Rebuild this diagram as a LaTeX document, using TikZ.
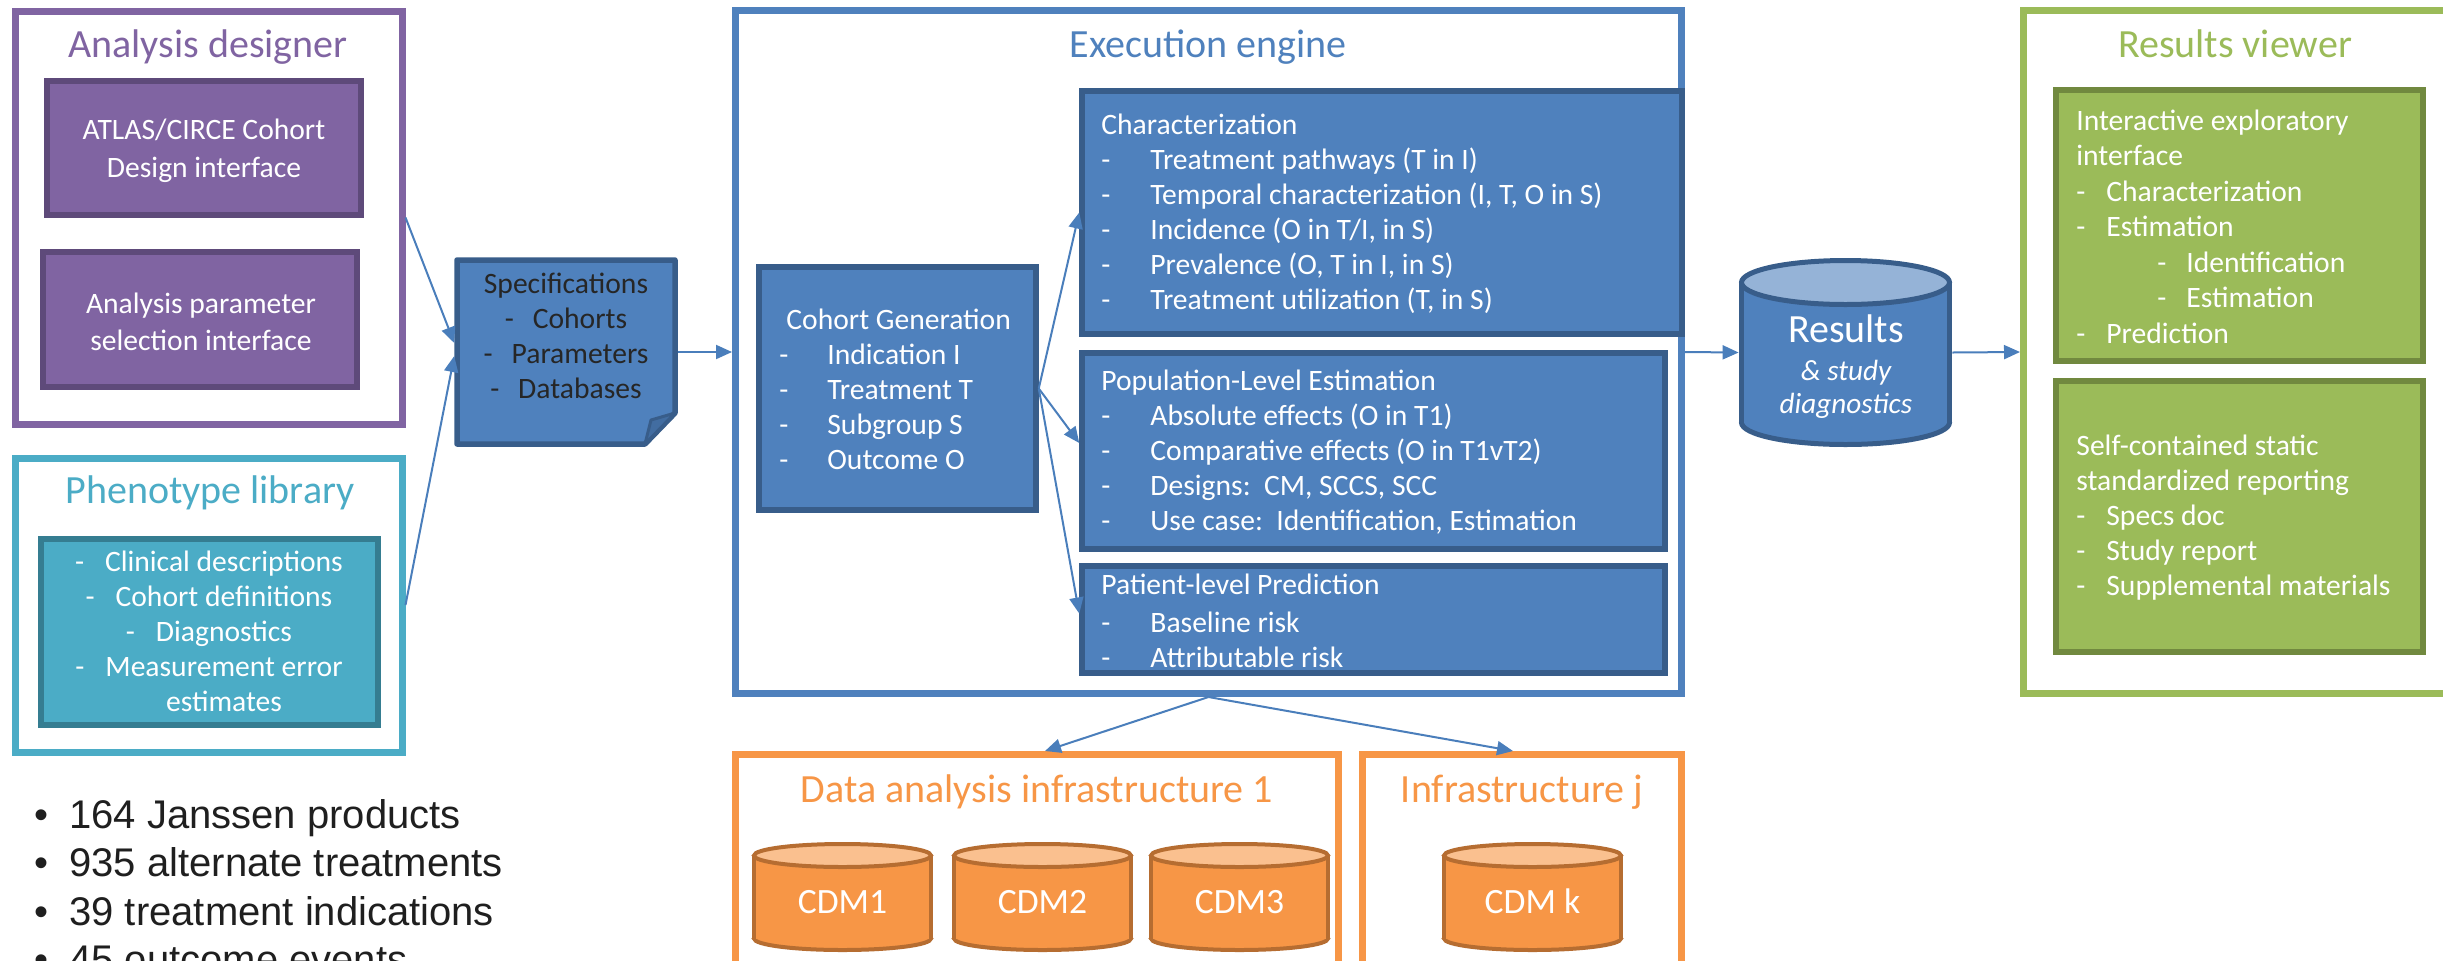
\documentclass[tikz,border=0pt]{standalone}
\usepackage{fontspec}
\setmainfont{Carlito}
\newfontfamily\arialfont{Liberation Sans}
\usetikzlibrary{fit,arrows.meta}

\definecolor{purp}{HTML}{8064A2}
\definecolor{purpd}{HTML}{5E4A7A}
\definecolor{aqua}{HTML}{4BACC6}
\definecolor{aquad}{HTML}{357D91}
\definecolor{blu}{HTML}{4F81BD}
\definecolor{blud}{HTML}{385D8A}
\definecolor{blul}{HTML}{95B3D7}
\definecolor{grn}{HTML}{9BBB59}
\definecolor{grnd}{HTML}{71893F}
\definecolor{org}{HTML}{F79646}
\definecolor{orgd}{HTML}{B66D31}
\definecolor{orgl}{HTML}{FAC08F}
\definecolor{arrc}{HTML}{4A7EBB}
\definecolor{dk}{HTML}{262626}
\definecolor{bulc}{HTML}{1F1F1F}

\newcommand\bodyfont{\fontsize{14.8}{17.5}\selectfont}
\newcommand\ttlfont{\fontsize{20}{24}\selectfont}
\newcommand\dsh[1]{\makebox[#1][l]{-}}
\newcommand\drawcyl[8]{%
  \path[fill=#6, draw=#8, line width=2pt] (#1,#3-#5) ellipse [x radius=#4, y radius=#5];
  \fill[#6] (#1-#4,#2+#5) rectangle (#1+#4,#3-#5);
  \draw[#8, line width=2pt] (#1-#4,#2+#5) -- (#1-#4,#3-#5) (#1+#4,#2+#5) -- (#1+#4,#3-#5);
  \path[fill=#7, draw=#8, line width=2pt] (#1,#2+#5) ellipse [x radius=#4, y radius=#5];
}

\begin{document}
\begin{tikzpicture}[x=0.5pt,y=-0.5pt,
  cont/.style={draw, line width=3.5pt, inner sep=0pt, fill=white},
  ibox/.style={draw, line width=2.75pt, inner sep=0pt},
  ttl/.style={inner sep=0pt, anchor=base, font=\ttlfont},
  btxt/.style={inner sep=0pt, anchor=base west, font=\bodyfont, text=white},
  ctxt/.style={inner sep=0pt, anchor=base, font=\bodyfont, text=white},
  cdm/.style={inner sep=0pt, anchor=base, font=\fontsize{17.8}{20}\selectfont, text=white},
  arr/.style={draw=arrc, line width=1pt, -{Triangle[length=8pt,width=7pt]}},
]
\useasboundingbox (0,0) rectangle (2443,960);
\clip (0,0) rectangle (2443,960);

% containers
\node[cont, draw=purp, fit={(15,11) (402,424)}] (ad) {};
\node[cont, draw=aqua, fit={(15,458) (402,752)}] (ph) {};
\node[cont, draw=blu, fit={(735.5,10.5) (1681.5,693.5)}] (exec) {};
\node[cont, draw=grn, fit={(2023.5,10.5) (2470,693.5)}] (view) {};
\node[cont, draw=org, fit={(735.5,754.5) (1338.5,1000)}] (inf1) {};
\node[cont, draw=org, fit={(1362.5,754.5) (1681.5,1000)}] (infj) {};

% inner boxes
\node[ibox, fill=purp, draw=purpd, fit={(47,81) (361,215)}] (atlas) {};
\node[ibox, fill=purp, draw=purpd, fit={(43,252) (357,387)}] (param) {};
\node[ibox, fill=aqua, draw=aquad, fit={(41,539) (378,725)}] (phin) {};
\node[inner sep=0pt, line width=2.75pt, fit={(457,260) (675,444)}] (specs) {};
\draw[fill=blu, draw=blud, line width=2.75pt, line join=round]
  (457,260) -- (675,260) -- (675,413) -- (645,444) -- (457,444) -- cycle;
\draw[fill=blud!55!blu, draw=blud, line width=1.5pt, line join=round]
  (675,413) -- (651,420) -- (645,444) -- cycle;
\node[ibox, fill=blu, draw=blud, fit={(759,267) (1036,510)}] (coh) {};
\node[ibox, fill=blu, draw=blud, fit={(1082,91) (1682,334)}] (char) {};
\node[ibox, fill=blu, draw=blud, fit={(1082,353) (1665,549)}] (pop) {};
\node[ibox, fill=blu, draw=blud, fit={(1082,566) (1665,673)}] (plp) {};
\node[ibox, fill=grn, draw=grnd, fit={(2056,90) (2423,361)}] (inter) {};
\node[ibox, fill=grn, draw=grnd, fit={(2056,381) (2423,652)}] (self) {};

% cylinders
\node[inner sep=0pt, fit={(1739,258) (1952,447)}] (res) {};
\path[fill=blu, draw=blud, line width=2.5pt] (1845.5,444.5-22) ellipse [x radius=104, y radius=22];
\fill[blu] (1845.5-104,260.5+22) rectangle (1845.5+104,444.5-22);
\draw[blud, line width=2.5pt] (1845.5-104,260.5+22) -- (1845.5-104,444.5-22) (1845.5+104,260.5+22) -- (1845.5+104,444.5-22);
\path[fill=blul, draw=blud, line width=2.5pt] (1845.5,260.5+22) ellipse [x radius=104, y radius=22];

\drawcyl{842.5}{844}{950}{88.5}{11.5}{org}{orgl}{orgd}
\drawcyl{1042.5}{844}{950}{88.5}{11.5}{org}{orgl}{orgd}
\drawcyl{1239.5}{844}{950}{88.5}{11.5}{org}{orgl}{orgd}
\drawcyl{1532.5}{844}{950}{88.5}{11.5}{org}{orgl}{orgd}

% connectors
\draw[arr] (ad.east) -- ([yshift=4.5pt]specs.west);
\draw[arr] (ph.east) -- ([yshift=-2pt]specs.west);
\draw[arr] (specs.east) -- (exec.west);
\draw[arr] (exec.east) -- (res.west);
\draw[arr] (res.east) -- (view.west);
\draw[arr] (coh.east) -- (char.west);
\draw[arr] (coh.east) -- ([yshift=4pt]pop.west);
\draw[arr] (coh.east) -- ([yshift=3pt]plp.west);
\draw[arr] (exec.south) -- ([xshift=4pt]inf1.north);
\draw[arr] (exec.south) -- ([xshift=-4.5pt]infj.north);

% titles
\node[ttl, text=purp] (adt) at (208,57) {Analysis designer};
\node[ttl, text=aqua] (pht) at (210,503) {Phenotype library};
\node[ttl, text=blu] (exect) at (1208,57) {Execution engine};
\node[ttl, text=grn] (viewt) at (2235,57) {Results viewer};
\node[ttl, text=org] (inf1t) at (1037,802) {Data analysis infrastructure 1};
\node[ttl, text=org] (infjt) at (1522,802) {Infrastructure j};

% box texts
\node[ctxt, font=\fontsize{14.8}{19}\selectfont] (atlast) at (204,139)
  {\begin{tabular}[t]{@{}c@{}}ATLAS/CIRCE Cohort\\Design interface\end{tabular}};
\node[ctxt, font=\fontsize{14.8}{18.5}\selectfont] (paramt) at (201,313)
  {\begin{tabular}[t]{@{}c@{}}Analysis parameter\\selection interface\end{tabular}};
\node[ctxt, font=\fontsize{14.8}{17.6}\selectfont] (phint) at (209,571)
  {\begin{tabular}[t]{@{}c@{}}\dsh{15pt}Clinical descriptions\\\dsh{15pt}Cohort definitions\\\dsh{15pt}Diagnostics\\\dsh{15pt}Measurement error\\\hspace*{15pt}estimates\end{tabular}};
\node[ctxt, text=dk, font=\fontsize{14.8}{17.6}\selectfont] (specst) at (566,293)
  {\begin{tabular}[t]{@{}c@{}}Specifications\\\dsh{14pt}Cohorts\\\dsh{14pt}Parameters\\\dsh{14pt}Databases\end{tabular}};
\node[btxt] (coht) at (779,329)
  {\begin{tabular}[t]{@{}l@{}}\hspace*{3.5pt}Cohort Generation\\\dsh{24pt}Indication I\\\dsh{24pt}Treatment T\\\dsh{24pt}Subgroup S\\\dsh{24pt}Outcome O\end{tabular}};
\node[btxt] (chart) at (1101,134)
  {\begin{tabular}[t]{@{}l@{}}Characterization\\\dsh{24.5pt}Treatment pathways (T in I)\\\dsh{24.5pt}Temporal characterization (I, T, O in S)\\\dsh{24.5pt}Incidence (O in T/I, in S)\\\dsh{24.5pt}Prevalence (O, T in I, in S)\\\dsh{24.5pt}Treatment utilization (T, in S)\end{tabular}};
\node[btxt] (popt) at (1101,390)
  {\begin{tabular}[t]{@{}l@{}}Population-Level Estimation\\\dsh{24.5pt}Absolute effects (O in T1)\\\dsh{24.5pt}Comparative effects (O in T1vT2)\\\dsh{24.5pt}Designs:\ \ CM, SCCS, SCC\\\dsh{24.5pt}Use case:\ \ Identification, Estimation\end{tabular}};
\node[btxt] (plpt) at (1101,594)
  {\begin{tabular}[t]{@{}l@{}}Patient-level Prediction\\[1.5pt]\dsh{24.5pt}Baseline risk\\\dsh{24.5pt}Attributable risk\end{tabular}};
\node[btxt, font=\fontsize{14.8}{17.75}\selectfont] (intert) at (2076,130)
  {\begin{tabular}[t]{@{}l@{}}Interactive exploratory\\interface\\\dsh{15pt}Characterization\\\dsh{15pt}Estimation\\\hspace*{40.5pt}\dsh{14.5pt}Identification\\\hspace*{40.5pt}\dsh{14.5pt}Estimation\\\dsh{15pt}Prediction\end{tabular}};
\node[btxt] (selft) at (2076,455)
  {\begin{tabular}[t]{@{}l@{}}Self-contained static\\standardized reporting\\\dsh{15pt}Specs doc\\\dsh{15pt}Study report\\\dsh{15pt}Supplemental materials\end{tabular}};

% results cylinder text
\node[ttl, text=white] (rest1) at (1846,342) {Results};
\node[ctxt, font=\fontsize{14.6}{17.5}\selectfont\itshape] (rest2) at (1846,380) {\& study};
\node[ctxt, font=\fontsize{14.6}{17.5}\selectfont\itshape] (rest3) at (1846,413) {diagnostics};

% CDM labels
\node[cdm] (c1) at (842.5,913) {CDM1};
\node[cdm] (c2) at (1042.5,913) {CDM2};
\node[cdm] (c3) at (1239.5,913) {CDM3};
\node[cdm] (ck) at (1532.5,913) {CDM k};

% bullets
\node[inner sep=0pt, anchor=base west, text=bulc, font=\arialfont\fontsize{20}{24.25}\selectfont] (bul) at (34,828)
  {\begin{tabular}[t]{@{}l@{}}\makebox[17.5pt][l]{•}164 Janssen products\\\makebox[17.5pt][l]{•}935 alternate treatments\\\makebox[17.5pt][l]{•}39 treatment indications\\\makebox[17.5pt][l]{•}45 outcome events\end{tabular}};
\end{tikzpicture}
\end{document}
